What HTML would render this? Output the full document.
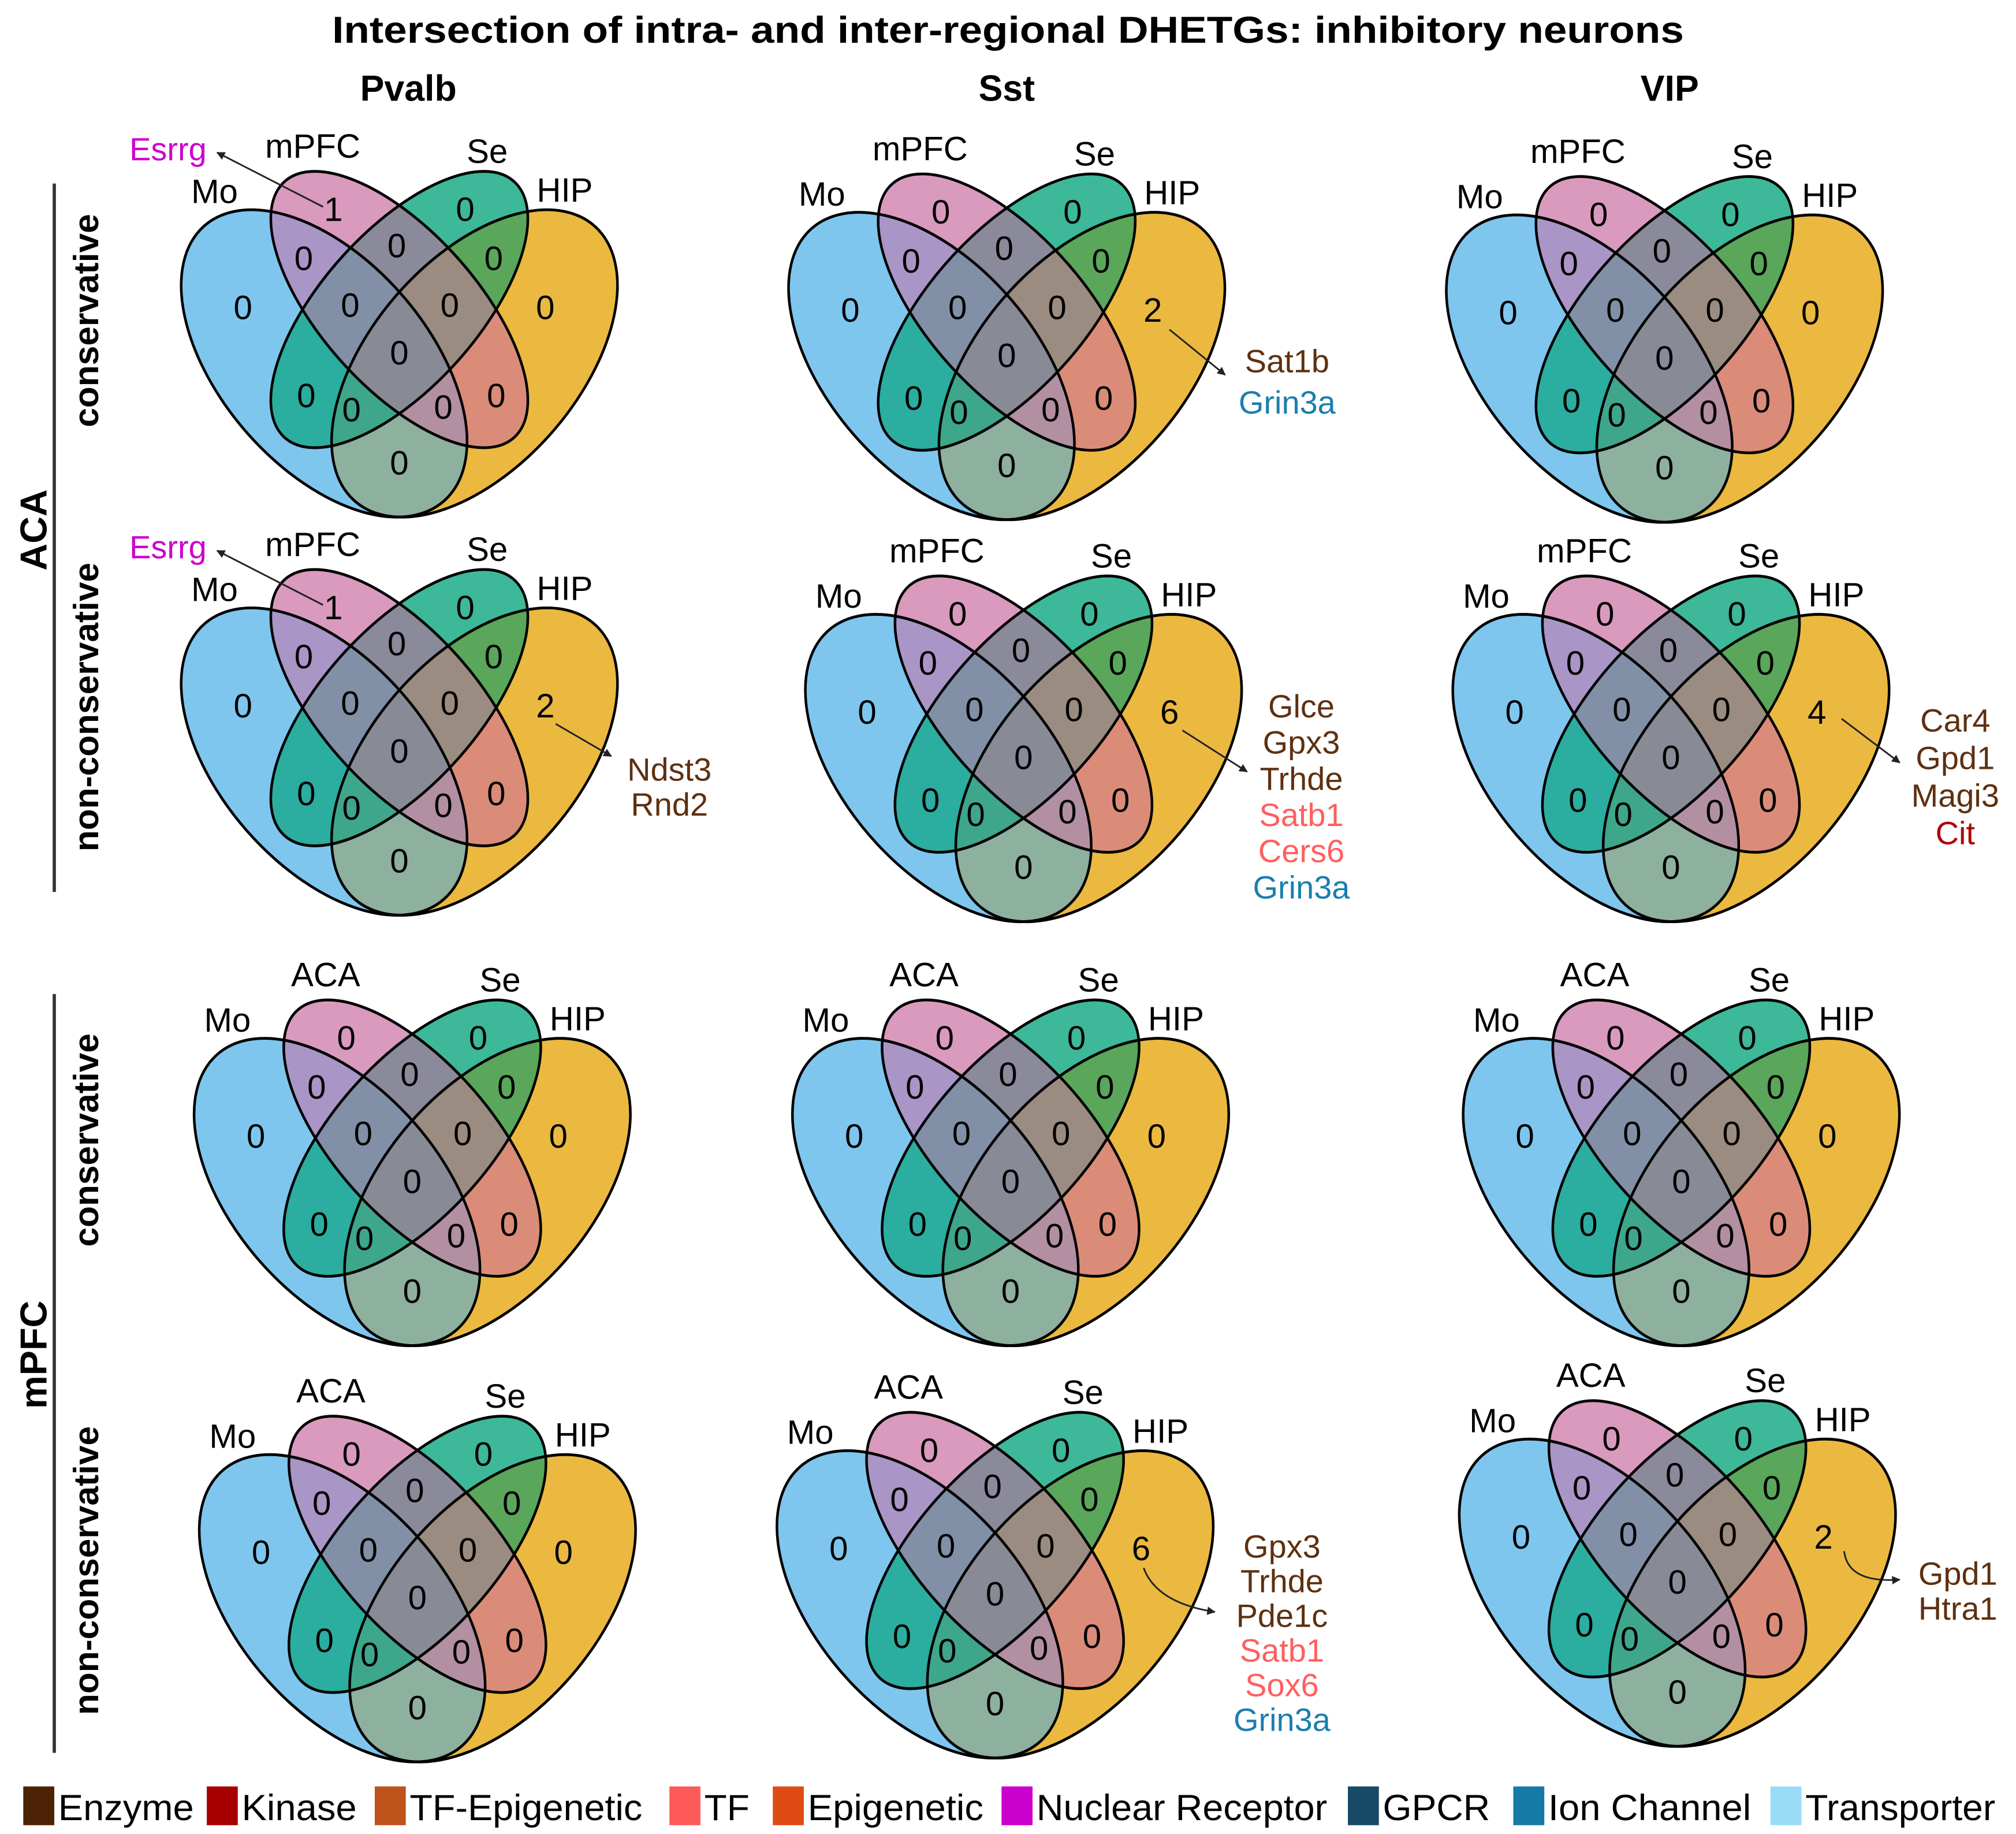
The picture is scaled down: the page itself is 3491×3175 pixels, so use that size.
<!DOCTYPE html>
<html><head><meta charset="utf-8">
<style>
html,body{margin:0;padding:0;background:#fff;}
svg{display:block;font-family:"Liberation Sans",Arial,sans-serif;}
</style></head>
<body>
<svg id="fig" width="3491" height="3175" viewBox="0 0 1560 1418.8" xmlns="http://www.w3.org/2000/svg">
<defs id="defs">
<marker id="ah" viewBox="0 0 10 10" refX="9" refY="5" markerWidth="5" markerHeight="5" orient="auto"><path d="M0,0 L10,5 L0,10 z" fill="#222"/></marker>
</defs>
<text x="780" y="33" text-anchor="middle" font-size="29" font-weight="bold" textLength="1046" lengthAdjust="spacingAndGlyphs">Intersection of intra- and inter-regional DHETGs: inhibitory neurons</text>
<text x="316" y="78" text-anchor="middle" font-size="28" font-weight="bold">Pvalb</text>
<text x="779" y="78" text-anchor="middle" font-size="28" font-weight="bold">Sst</text>
<text x="1292" y="78" text-anchor="middle" font-size="28" font-weight="bold">VIP</text>

<line x1="42" y1="142" x2="42" y2="690" stroke="#333" stroke-width="2.5"/>
<line x1="42" y1="769" x2="42" y2="1356" stroke="#333" stroke-width="2.5"/>
<text transform="translate(36,410) rotate(-90)" text-anchor="middle" font-size="29" font-weight="bold">ACA</text>
<text transform="translate(36,1048) rotate(-90)" text-anchor="middle" font-size="29" font-weight="bold">mPFC</text>
<text transform="translate(76,248) rotate(-90)" text-anchor="middle" font-size="27" font-weight="bold">conservative</text>
<text transform="translate(76,547) rotate(-90)" text-anchor="middle" font-size="27" font-weight="bold">non-conservative</text>
<text transform="translate(76,882) rotate(-90)" text-anchor="middle" font-size="27" font-weight="bold">conservative</text>
<text transform="translate(76,1215) rotate(-90)" text-anchor="middle" font-size="27" font-weight="bold">non-conservative</text>
<g id="venns"></g>
<g id="legend"></g>
</svg>
<script>
// Region order: Mo, mPFC/ACA, Se, HIP, Mo&2, 2&Se, Se&HIP, Mo&2&Se, 2&Se&HIP, all, Mo&Se, 2&HIP, Mo&Se&HIP, Mo&2&HIP, Mo&HIP
const regionNames = ['mo','set2','se','hip','mo-set2','set2-se','se-hip','mo-set2-se','set2-se-hip','all','mo-se','set2-hip','mo-se-hip','mo-set2-hip','mo-hip'];
const countsPvalbAcaCons   = [0,1,0,0,0,0,0,0,0,0,0,0,0,0,0];
const countsSstAcaCons     = [0,0,0,2,0,0,0,0,0,0,0,0,0,0,0];
const countsVipAcaCons     = [0,0,0,0,0,0,0,0,0,0,0,0,0,0,0];
const countsPvalbAcaNon    = [0,1,0,2,0,0,0,0,0,0,0,0,0,0,0];
const countsSstAcaNon      = [0,0,0,6,0,0,0,0,0,0,0,0,0,0,0];
const countsVipAcaNon      = [0,0,0,4,0,0,0,0,0,0,0,0,0,0,0];
const countsPvalbMpfcCons  = [0,0,0,0,0,0,0,0,0,0,0,0,0,0,0];
const countsSstMpfcCons    = [0,0,0,0,0,0,0,0,0,0,0,0,0,0,0];
const countsVipMpfcCons    = [0,0,0,0,0,0,0,0,0,0,0,0,0,0,0];
const countsPvalbMpfcNon   = [0,0,0,0,0,0,0,0,0,0,0,0,0,0,0];
const countsSstMpfcNon     = [0,0,0,6,0,0,0,0,0,0,0,0,0,0,0];
const countsVipMpfcNon     = [0,0,0,2,0,0,0,0,0,0,0,0,0,0,0];
const setLabelsAca = ['Mo','mPFC','Se','HIP'];
const setLabelsMpfc = ['Mo','ACA','Se','HIP'];

const NS='http://www.w3.org/2000/svg';
function mk(tag, attrs, parent){const e=document.createElementNS(NS,tag);for(const k in attrs)e.setAttribute(k,attrs[k]);parent.appendChild(e);return e;}

const regionOff=[[-121,-162],[-51,-238],[51,-238],[113,-162],[-74,-200],[-2,-210],[73,-200],[-38,-164],[39,-164],[0,-127],[-72,-94],[75,-94],[-37,-83],[34,-85],[0,-42]];
const labelOff=[[-143,-252],[-67,-287],[68,-283],[128,-253]];
const ell=[[0.35,0.47,0.35,0.20,135],[0.50,0.57,0.33,0.15,135],[0.50,0.57,0.33,0.15,45],[0.65,0.47,0.35,0.20,45]];
const regionSets=[[0],[1],[2],[3],[0,1],[1,2],[2,3],[0,1,2],[1,2,3],[0,1,2,3],[0,2],[1,3],[0,2,3],[0,1,3],[0,3]];
const regionFill=['#7ec6ee','#d99abd','#3db898','#ebb940','#a995c6','#8a8a9a','#5aa65a','#8190a6','#9a8c80','#888a95','#2bad9f','#da8c79','#3ea68a','#b38fa2','#8eb09e'];
const defs=document.getElementById('defs');
ell.forEach((e,i)=>{
  const cp=mk('clipPath',{id:'cp'+i,clipPathUnits:'userSpaceOnUse'},defs);
  mk('ellipse',{cx:e[0],cy:e[1],rx:e[2],ry:e[3],transform:`rotate(${e[4]} ${e[0]} ${e[1]})`},cp);
});
const SX=388, SY=417;
const venns=[
 {n:'pvalb-aca-conservative',cx:309,by:400,c:countsPvalbAcaCons,l:setLabelsAca},
 {n:'sst-aca-conservative',cx:779,by:402,c:countsSstAcaCons,l:setLabelsAca},
 {n:'vip-aca-conservative',cx:1288,by:404,c:countsVipAcaCons,l:setLabelsAca},
 {n:'pvalb-aca-nonconservative',cx:309,by:708,c:countsPvalbAcaNon,l:setLabelsAca},
 {n:'sst-aca-nonconservative',cx:792,by:713,c:countsSstAcaNon,l:setLabelsAca},
 {n:'vip-aca-nonconservative',cx:1293,by:713,c:countsVipAcaNon,l:setLabelsAca},
 {n:'pvalb-mpfc-conservative',cx:319,by:1041,c:countsPvalbMpfcCons,l:setLabelsMpfc},
 {n:'sst-mpfc-conservative',cx:782,by:1041,c:countsSstMpfcCons,l:setLabelsMpfc},
 {n:'vip-mpfc-conservative',cx:1301,by:1041,c:countsVipMpfcCons,l:setLabelsMpfc},
 {n:'pvalb-mpfc-nonconservative',cx:323,by:1363,c:countsPvalbMpfcNon,l:setLabelsMpfc},
 {n:'sst-mpfc-nonconservative',cx:770,by:1360,c:countsSstMpfcNon,l:setLabelsMpfc},
 {n:'vip-mpfc-nonconservative',cx:1298,by:1351,c:countsVipMpfcNon,l:setLabelsMpfc}
];
const order=[0,1,2,3,4,5,6,10,11,14,7,8,12,13,9];
const root=document.getElementById('venns');
venns.forEach(v=>{
  const g=mk('g',{},root);
  
  
  const eg=mk('g',{transform:`translate(${v.cx-0.5*SX},${v.by+0.185*SY}) scale(${SX},${-SY})`},g);
  order.forEach(r=>{
    let parent=eg;
    regionSets[r].forEach(s=>{parent=mk('g',{'clip-path':`url(#cp${s})`},parent);});
    const rc=mk('rect',{x:-0.1,y:-0.1,width:1.2,height:1.2,fill:regionFill[r]},parent);
    
    
  });
  ell.forEach((e,i)=>{
    const el=mk('ellipse',{cx:e[0],cy:e[1],rx:e[2],ry:e[3],transform:`rotate(${e[4]} ${e[0]} ${e[1]})`,fill:'none',stroke:'#000','stroke-width':0.0052},eg);
    
    
  });
  v.l.forEach((t,i)=>{
    const tx=mk('text',{x:v.cx+labelOff[i][0],y:v.by+labelOff[i][1]+9,'text-anchor':'middle','font-size':26},g);
    tx.textContent=t;
    
    
  });
  v.c.forEach((val,i)=>{
    const tx=mk('text',{x:v.cx+regionOff[i][0],y:v.by+regionOff[i][1]+9,'text-anchor':'middle','font-size':26},g);
    tx.textContent=val;
    
    
  });
});

const BR='#5e3010', TFc='#ff5f5f', ION='#1a7fae', KIN='#b00000', NR='#cc00cc';
const annots=[
 {n:'esrrg-pvalb-cons',a:'M250,160 L168,118',x:130,y:115,g:[['Esrrg',NR]]},
 {n:'sst-aca-cons-hip',a:'M905,255 L948,290',x:996,y:279,sp:32,g:[['Sat1b',BR],['Grin3a',ION]]},
 {n:'esrrg-pvalb-non',a:'M250,468 L168,426',x:130,y:423,g:[['Esrrg',NR]]},
 {n:'pvalb-aca-non-hip',a:'M430,560 L473,585',x:518,y:595,sp:27,g:[['Ndst3',BR],['Rnd2',BR]]},
 {n:'sst-aca-non-hip',a:'M915,565 L965,597',x:1007,y:546,sp:28,g:[['Glce',BR],['Gpx3',BR],['Trhde',BR],['Satb1',TFc],['Cers6',TFc],['Grin3a',ION]]},
 {n:'vip-aca-non-hip',a:'M1425,556 L1470,590',x:1513,y:557,sp:29,g:[['Car4',BR],['Gpd1',BR],['Magi3',BR],['Cit',KIN]]},
 {n:'sst-mpfc-non-hip',a:'M885,1213 Q895,1240 940,1247',x:992,y:1196,sp:26.8,g:[['Gpx3',BR],['Trhde',BR],['Pde1c',BR],['Satb1',TFc],['Sox6',TFc],['Grin3a',ION]]},
 {n:'vip-mpfc-non-hip',a:'M1427,1200 Q1430,1225 1470,1222',x:1515,y:1217,sp:27,g:[['Gpd1',BR],['Htra1',BR]]}
];
const svg=document.getElementById('fig');
annots.forEach(a=>{
  const g=mk('g',{},svg);
  
  
  const p=mk('path',{d:a.a,fill:'none',stroke:'#222','stroke-width':1.3,'marker-end':'url(#ah)'},g);
  
  
  a.g.forEach((gn,i)=>{
    const t=mk('text',{x:a.x,y:a.y+i*(a.sp||28)+9,'text-anchor':'middle','font-size':25,fill:gn[1]},g);
    t.textContent=gn[0];
    
    
  });
});

const legendLabels=['Enzyme','Kinase','TF-Epigenetic','TF','Epigenetic','Nuclear Receptor','GPCR','Ion Channel','Transporter'];
const legendColors=['#4e2206','#a80000','#c0521c','#ff5a5a','#de4c14','#cc00cc','#164a66','#157aa6','#9adcf7'];
const legendX=[18,160,290,518,598,775,1043,1171,1370];
const legendW=[105,89,180,35,136,225,83,157,147];
const lg=document.getElementById('legend');
legendLabels.forEach((t,i)=>{
  const g=mk('g',{},lg);
  
  
  mk('rect',{x:legendX[i],y:1382,width:24,height:30,fill:legendColors[i]},g);
  const tx=mk('text',{x:legendX[i]+27,y:1408,'font-size':28,textLength:legendW[i],lengthAdjust:'spacingAndGlyphs'},g);
  tx.textContent=t;
});
</script>
</body></html>
